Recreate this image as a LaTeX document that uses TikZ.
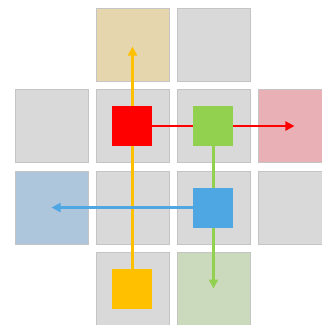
\documentclass[tikz,border=0pt]{standalone}
\usetikzlibrary{arrows.meta}
\definecolor{cellfill}{HTML}{D9D9D9}
\definecolor{celldraw}{HTML}{C4C4C4}
\definecolor{tanc}{HTML}{E6D6AE}
\definecolor{pinkc}{HTML}{E9B0B5}
\definecolor{bluec}{HTML}{AEC6DC}
\definecolor{greenc}{HTML}{CBDABD}
\definecolor{redsq}{HTML}{FF0000}
\definecolor{greensq}{HTML}{92D050}
\definecolor{bluesq}{HTML}{4EA6E3}
\definecolor{yellowsq}{HTML}{FFC000}
\begin{document}
\begin{tikzpicture}[x=1pt,y=-1pt,
  cell/.style={draw=celldraw,line width=0.8pt,fill=cellfill,minimum size=73pt,inner sep=0pt,outer sep=0pt},
  sq/.style={minimum size=40pt,inner sep=0pt,outer sep=0pt},
  arr/.style={line width=2.6pt,-{Triangle[length=9pt,width=9pt]}}]
\useasboundingbox (0,0) rectangle (322,325);
% cells
\node[cell,fill=tanc] (c10) at (132.5,44.5) {};
\node[cell] (c20) at (213.5,44.5) {};
\node[cell] (c01) at (51.5,126) {};
\node[cell] (c11) at (132.5,126) {};
\node[cell] (c21) at (213.5,126) {};
\node[cell,fill=pinkc] (c31) at (294.5,126) {};
\node[cell,fill=bluec] (c02) at (51.5,207.5) {};
\node[cell] (c12) at (132.5,207.5) {};
\node[cell] (c22) at (213.5,207.5) {};
\node[cell] (c32) at (294.5,207.5) {};
\node[cell] (c13) at (132.5,288.5) {};
\node[cell,fill=greenc] (c23) at (213.5,288.5) {};
% coloured squares positions
\coordinate (R) at (c11.center);
\coordinate (G) at (c21.center);
\coordinate (B) at (c22.center);
\coordinate (Y) at (c13.center);
% arrows
\draw[arr,redsq] (R) -- (c31.center);
\draw[arr,greensq] (G) -- (c23.center);
\draw[arr,yellowsq] (Y) -- ([yshift=-2pt]c10.center);
\draw[arr,bluesq] (B) -- (c02.center);
% squares
\node[sq,fill=redsq] (rs) at (R) {};
\node[sq,fill=greensq] (gs) at (G) {};
\node[sq,fill=bluesq] (bs) at (B) {};
\node[sq,fill=yellowsq] (ys) at (Y) {};
\end{tikzpicture}
\end{document}
